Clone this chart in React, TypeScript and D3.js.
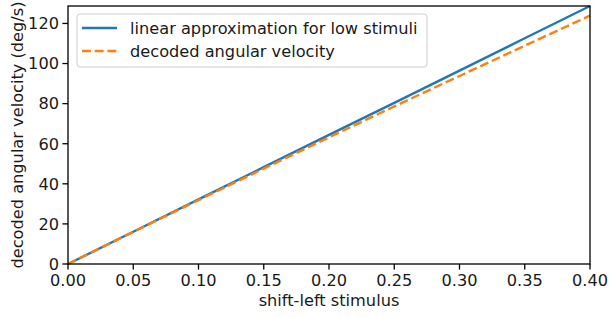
import React from "react";
import * as d3 from "d3";

const stimulus = [0, 0.05, 0.1, 0.15, 0.2, 0.25, 0.3, 0.35, 0.4];
const linearApprox = [0, 16.1, 32.2, 48.3, 64.4, 80.4, 96.5, 112.6, 128.7];
const decodedVelocity = [0, 16.0, 31.9, 47.6, 63.2, 78.6, 93.8, 108.9, 123.9];
const xTicks = [0, 0.05, 0.1, 0.15, 0.2, 0.25, 0.3, 0.35, 0.4];
const yTicks = [0, 20, 40, 60, 80, 100, 120];
const seriesNames = ["linear approximation for low stimuli", "decoded angular velocity"];

const W = 610;
const H = 318;
const margin = { left: 68, right: 20, top: 6, bottom: 54 };
const font = "'DejaVu Sans', sans-serif";
const fs = 16.2;

const App = () => {
  const x = d3.scaleLinear().domain([0, 0.4]).range([margin.left, W - margin.right]);
  const y = d3.scaleLinear().domain([0, 128.7]).range([H - margin.bottom, margin.top]);

  const line = d3
    .line<number>()
    .x((d, i) => x(stimulus[i]))
    .y((d) => y(d));

  const x0 = margin.left;
  const x1 = W - margin.right;
  const y0 = H - margin.bottom;
  const y1 = margin.top;

  return (
    <svg width={W} height={H} style={{ position: "absolute", left: 0, top: 0 }} fontFamily={font}>
      <rect width={W} height={H} fill="white" />
      <path d={line(linearApprox) || ""} fill="none" stroke="#1f77b4" strokeWidth={2.4} />
      <path
        d={line(decodedVelocity) || ""}
        fill="none"
        stroke="#ff7f0e"
        strokeWidth={2.4}
        strokeDasharray="8.9,3.8"
      />
      {/* spines */}
      <rect x={x0} y={y1} width={x1 - x0} height={y0 - y1} fill="none" stroke="black" strokeWidth={1.3} />
      {xTicks.map((t) => (
        <g key={"x" + t}>
          <line x1={x(t)} x2={x(t)} y1={y0} y2={y0 + 5.6} stroke="black" strokeWidth={1.3} />
          <text x={x(t)} y={286} textAnchor="middle" fontSize={fs} fill="#1a1a1a">
            {t.toFixed(2)}
          </text>
        </g>
      ))}
      {yTicks.map((t) => (
        <g key={"y" + t}>
          <line x1={x0 - 5.6} x2={x0} y1={y(t)} y2={y(t)} stroke="black" strokeWidth={1.3} />
          <text x={x0 - 9} y={y(t)} dy="0.36em" textAnchor="end" fontSize={fs} fill="#1a1a1a">
            {t}
          </text>
        </g>
      ))}
      <text x={(x0 + x1) / 2} y={306} textAnchor="middle" fontSize={fs} fill="#1a1a1a">
        shift-left stimulus
      </text>
      <text
        transform={`translate(23,${(y0 + y1) / 2}) rotate(-90)`}
        textAnchor="middle"
        fontSize={fs}
        fill="#1a1a1a"
      >
        decoded angular velocity (deg/s)
      </text>
      {/* legend */}
      <rect x={77} y={14} width={350} height={53} rx={3} fill="white" fillOpacity={0.8} stroke="#cccccc" strokeWidth={1} />
      <line x1={82} x2={117} y1={28} y2={28} stroke="#1f77b4" strokeWidth={2.4} />
      <line x1={82} x2={117} y1={51} y2={51} stroke="#ff7f0e" strokeWidth={2.4} strokeDasharray="8.9,3.8" />
      <text x={130} y={28} dy="0.36em" fontSize={fs} fill="#1a1a1a">
        {seriesNames[0]}
      </text>
      <text x={130} y={51} dy="0.36em" fontSize={fs} fill="#1a1a1a">
        {seriesNames[1]}
      </text>
    </svg>
  );
};

export default App;
